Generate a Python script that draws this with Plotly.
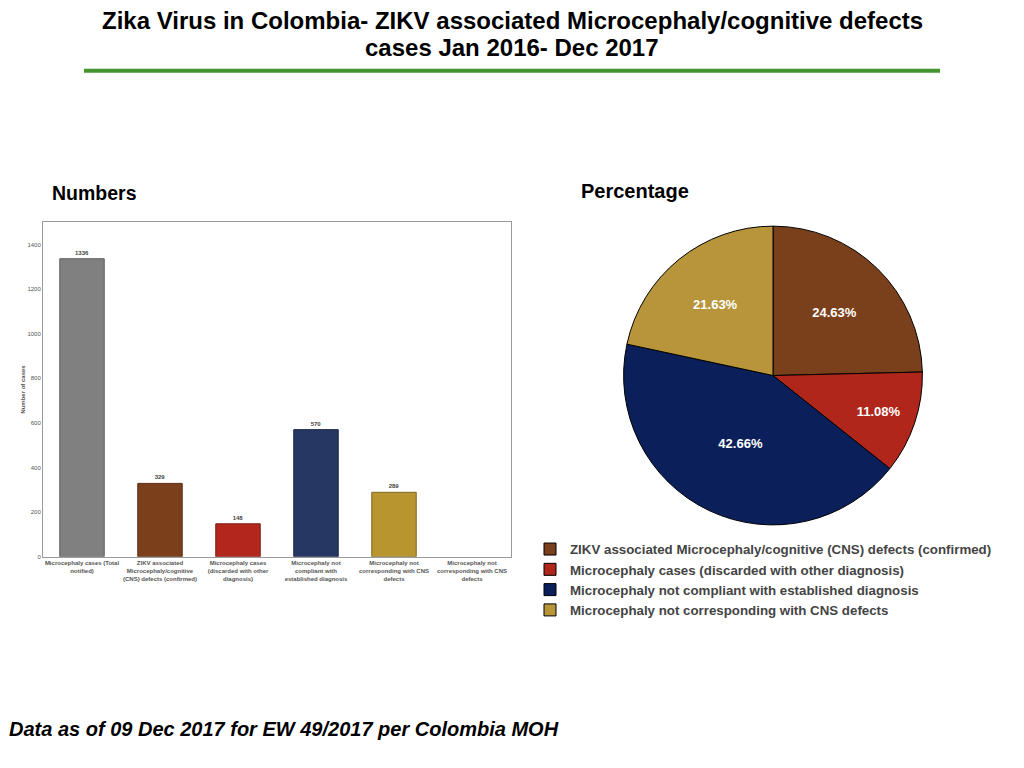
import plotly.graph_objects as go

# ── Data ────────────────────────────────────────────────────────────────────
categories = [
    "Microcephaly cases (Total<br>notified)",
    "ZIKV associated<br>Microcephaly/cognitive<br>(CNS) defects (confirmed)",
    "Microcephaly cases<br>(discarded with other<br>diagnosis)",
    "Microcephaly not<br>compliant with<br>established diagnosis",
    "Microcephaly not<br>corresponding with CNS<br>defects",
    "Microcephaly not<br>corresponding with CNS<br>defects",
]
case_counts = [1336, 329, 148, 570, 289, None]
bar_colors = ["#808080", "#7B401B", "#B3261D", "#253762", "#B8952F", "#FFFFFF"]
bar_edges = ["#5e5e5e", "#5a2d12", "#7d1a13", "#1a2646", "#7f6720", "#FFFFFF"]

pie_labels = [
    "ZIKV associated Microcephaly/cognitive (CNS) defects (confirmed)",
    "Microcephaly cases (discarded with other diagnosis)",
    "Microcephaly not compliant with established diagnosis",
    "Microcephaly not corresponding with CNS defects",
]
pie_values = [329, 148, 570, 289]
pie_colors = ["#7A3F1B", "#B0261B", "#0B1F5A", "#B8953A"]

y_ticks = [0, 200, 400, 600, 800, 1000, 1200, 1400]

title_lines = [
    "Zika Virus in Colombia- ZIKV associated Microcephaly/cognitive defects",
    "cases Jan 2016- Dec 2017",
]

# page is 1024x768, the figure sits inside the 8px body margin
OFF = 8
W, H = 1024 - 2 * OFF, 768 - 2 * OFF


def px(x):
    return (x - OFF) / W


def py(y):
    return 1 - (y - OFF) / H


fig = go.Figure()

# ── Bar chart (Numbers) ────────────────────────────────────────────────────
fig.add_trace(go.Bar(
    x=list(range(len(categories))),
    y=case_counts,
    marker=dict(color=bar_colors, line=dict(color=bar_edges, width=1)),
    width=0.57,
    text=[f"<b>{v}</b>" if v is not None else "" for v in case_counts],
    textposition="outside",
    textfont=dict(size=6, color="#444444", family="Liberation Sans"),
    cliponaxis=False,
    showlegend=False,
    xaxis="x", yaxis="y",
))

# ── Pie chart (Percentage) ─────────────────────────────────────────────────
fig.add_trace(go.Pie(
    labels=pie_labels,
    values=pie_values,
    marker=dict(colors=pie_colors, line=dict(color="#000000", width=1)),
    sort=False,
    direction="clockwise",
    rotation=0,
    texttemplate="<b>%{percent:.2%}</b>",
    textposition="inside",
    insidetextorientation="horizontal",
    textfont=dict(size=13, color="#FFFFFF", family="Liberation Sans"),
    domain=dict(x=[px(623), px(923)], y=[py(527), py(227)]),
    showlegend=True,
))

title_annotations = [
    dict(text=f"<b>{line}</b>", x=px(512), y=py(y), xref="paper", yref="paper",
         xanchor="center", yanchor="middle", showarrow=False,
         font=dict(size=24, color="#000000", family="Liberation Sans"))
    for line, y in zip(title_lines, [21, 48])
]

fig.update_layout(
    width=W, height=H,
    margin=dict(l=0, r=0, t=0, b=0),
    paper_bgcolor="white",
    plot_bgcolor="white",
    font=dict(family="Liberation Sans", color="#444444"),
    xaxis=dict(
        domain=[px(43), px(511)],
        range=[-0.5, 5.5],
        tickmode="array",
        tickvals=list(range(len(categories))),
        ticktext=[f"<b>{c}</b>" for c in categories],
        tickfont=dict(size=6, color="#555555"),
        tickangle=0,
        showline=True, linecolor="#9a9a9a", linewidth=1, mirror=True,
        showgrid=False, ticks="", zeroline=False,
    ),
    yaxis=dict(
        domain=[py(559), py(223)],
        range=[0, 1500],
        tickmode="array",
        tickvals=y_ticks,
        tickfont=dict(size=6, color="#555555"),
        title=dict(text="<b>Number of cases</b>", font=dict(size=6, color="#555555"), standoff=1),
        showline=True, linecolor="#9a9a9a", linewidth=1, mirror=True,
        showgrid=False, ticks="", zeroline=False,
    ),
    legend=dict(
        x=px(530), y=py(536), xanchor="left", yanchor="top",
        font=dict(size=13.3, color="#444444", family="Liberation Sans", weight="bold"),
        itemwidth=30, tracegroupgap=0,
        bgcolor="rgba(0,0,0,0)",
    ),
    annotations=title_annotations + [
        dict(text="<b>Numbers</b>", x=px(50), y=py(194), xref="paper", yref="paper",
             xanchor="left", yanchor="middle", showarrow=False,
             font=dict(size=19.5, color="#000000", family="Liberation Sans")),
        dict(text="<b>Percentage</b>", x=px(635), y=py(192), xref="paper", yref="paper",
             xanchor="center", yanchor="middle", showarrow=False,
             font=dict(size=20, color="#000000", family="Liberation Sans")),
        dict(text="<b><i>Data as of 09 Dec 2017 for EW 49/2017 per Colombia MOH</i></b>",
             x=px(7), y=py(732), xref="paper", yref="paper", xanchor="left", yanchor="middle",
             showarrow=False, font=dict(size=20, color="#000000", family="Liberation Sans")),
    ],
    shapes=[
        dict(type="line", xref="paper", yref="paper",
             x0=px(84), x1=px(940), y0=py(71), y1=py(71),
             line=dict(color="#43962F", width=4)),
    ],
)

fig.write_html("out.html")
